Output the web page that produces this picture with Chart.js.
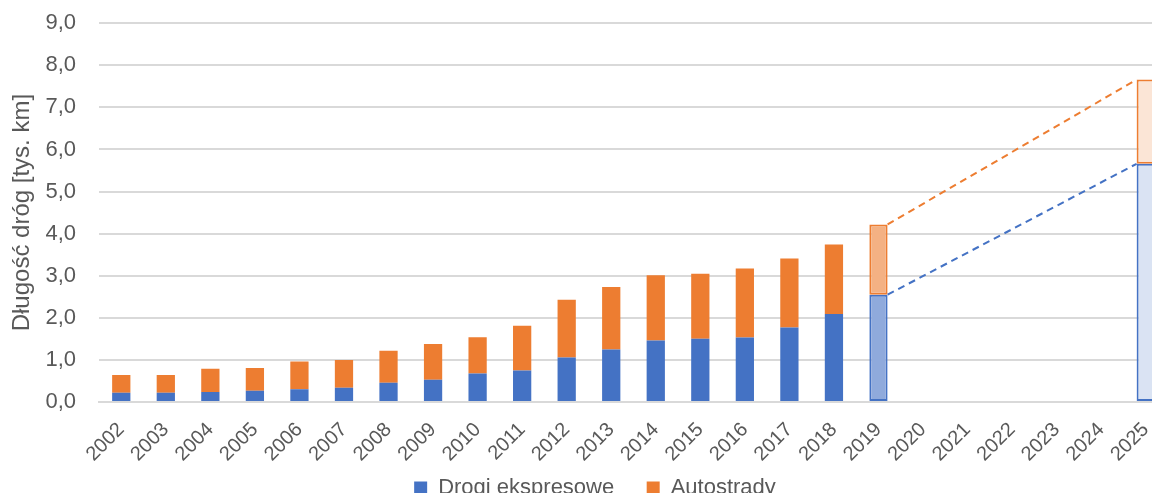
<!DOCTYPE html>
<html>
<head>
<meta charset="utf-8">
<script src="https://cdn.jsdelivr.net/npm/chart.js@4"></script>
<style>
    html, body { margin: 0; padding: 0; background: #fff; overflow: hidden; }
    #wrap { width: 1176px; height: 522px; margin-top: -13px; }
</style>
</head>
<body>
<div id="wrap"><canvas id="roadChart"></canvas></div>
<script>
// Data (thousands of km)
const years = ['2002', '2003', '2004', '2005', '2006', '2007', '2008', '2009', '2010', '2011', '2012',
    '2013', '2014', '2015', '2016', '2017', '2018', '2019', '2020', '2021', '2022', '2023', '2024', '2025'];
const ekspresowe = [0.22, 0.22, 0.24, 0.27, 0.30, 0.34, 0.46, 0.53, 0.68, 0.75, 1.06,
    1.25, 1.46, 1.50, 1.53, 1.77, 2.09, 2.55, null, null, null, null, null, 5.66];
const autostrady = [0.42, 0.42, 0.55, 0.54, 0.66, 0.66, 0.76, 0.85, 0.86, 1.06, 1.37,
    1.48, 1.55, 1.55, 1.64, 1.64, 1.65, 1.67, null, null, null, null, null, 2.00];
const yTicks = [0, 1, 2, 3, 4, 5, 6, 7, 8, 9];

const BLUE = '#4472C4';
const ORANGE = '#ED7D31';
const FONT = "'Liberation Sans', Arial, sans-serif";

// 2019 = current (lighter), 2025 = plan (very light)
function fills(base, current, plan) {
    return years.map(y => y === '2019' ? current : (y === '2025' ? plan : base));
}
function borders() {
    return years.map(y => (y === '2019' || y === '2025') ? 2 : 0);
}

// dashed connectors between the 2019 and 2025 bars
const connectorPlugin = {
    id: 'connector',
    afterDatasetsDraw(chart) {
        const ctx = chart.ctx;
        const from = years.indexOf('2019');
        const to = years.indexOf('2025');
        [[0, BLUE], [1, ORANGE]].forEach(([ds, color]) => {
            const meta = chart.getDatasetMeta(ds);
            const a = meta.data[from];
            const b = meta.data[to];
            ctx.save();
            ctx.strokeStyle = color;
            ctx.lineWidth = 2;
            ctx.setLineDash([7, 5]);
            ctx.beginPath();
            ctx.moveTo(a.x + a.width / 2, a.y);
            ctx.lineTo(b.x - b.width / 2, b.y);
            ctx.stroke();
            ctx.restore();
        });
    }
};

const ctx = document.getElementById('roadChart').getContext('2d');
new Chart(ctx, {
    type: 'bar',
    data: {
        labels: years,
        datasets: [{
            label: 'Drogi ekspresowe',
            data: ekspresowe,
            backgroundColor: fills(BLUE, '#8FAADC', '#DAE3F3'),
            borderColor: BLUE,
            borderWidth: borders(),
            borderSkipped: false,
            categoryPercentage: 1,
            barPercentage: 0.41
        }, {
            label: 'Autostrady',
            data: autostrady,
            backgroundColor: fills(ORANGE, '#F4B183', '#FBE5D6'),
            borderColor: ORANGE,
            borderWidth: borders(),
            borderSkipped: false,
            categoryPercentage: 1,
            barPercentage: 0.41
        }]
    },
    options: {
        responsive: true,
        maintainAspectRatio: false,
        animation: false,
        layout: {
            padding: { top: 4, right: 8, left: 22, bottom: 0 }
        },
        plugins: {
            legend: {
                position: 'bottom',
                labels: {
                    color: '#595959',
                    font: { family: FONT, size: 22 },
                    boxWidth: 13,
                    boxHeight: 13,
                    padding: 8,
                    // trailing spaces keep the wide gap between the two entries
                    generateLabels: chart => chart.data.datasets.map((d, i) => ({
                        text: i === 0 ? d.label + '    ' : d.label,
                        fillStyle: i === 0 ? BLUE : ORANGE,
                        strokeStyle: i === 0 ? BLUE : ORANGE,
                        lineWidth: 0,
                        datasetIndex: i,
                        fontColor: '#595959'
                    }))
                }
            },
            tooltip: { enabled: false }
        },
        scales: {
            x: {
                stacked: true,
                afterFit: scale => {
                    scale.height = 67;
                    scale.paddingLeft = 0;
                    scale.paddingRight = 0;
                },
                grid: { display: false },
                border: { color: '#D9D9D9', width: 2 },
                ticks: {
                    color: '#595959',
                    font: { family: FONT, size: 20 },
                    minRotation: 45,
                    maxRotation: 45,
                    autoSkip: false,
                    padding: 8
                }
            },
            y: {
                stacked: true,
                min: 0,
                max: 9,
                afterFit: scale => { scale.width = 77; },
                afterBuildTicks: scale => { scale.ticks = yTicks.map(v => ({ value: v })); },
                grid: { color: '#D9D9D9', lineWidth: 2, drawTicks: false },
                border: { display: false },
                ticks: {
                    color: '#595959',
                    font: { family: FONT, size: 22 },
                    padding: 23,
                    callback: v => v.toFixed(1).replace('.', ',')
                },
                title: {
                    display: true,
                    text: 'Długość dróg [tys. km]',
                    color: '#595959',
                    font: { family: FONT, size: 24 },
                    padding: { top: -14, bottom: 0 }
                }
            }
        }
    },
    plugins: [connectorPlugin]
});
</script>
</body>
</html>
